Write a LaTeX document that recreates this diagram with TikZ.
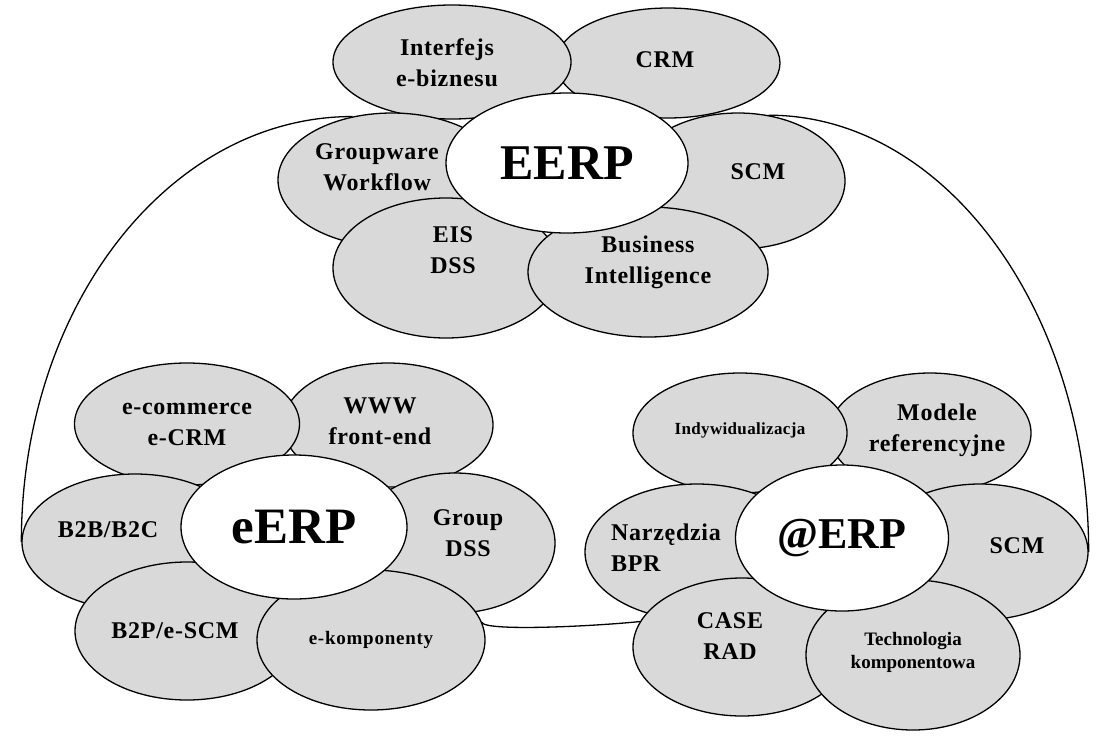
\documentclass[tikz,border=0pt]{standalone}
\usepackage{fontspec}
\setmainfont{Liberation Serif}
\usetikzlibrary{shapes.geometric}
\definecolor{petalgray}{HTML}{D9D9D9}
\newcommand\petalfont{\fontsize{24}{31}\selectfont\bfseries\addfontfeature{LetterSpace=3}}
\newcommand\tinyfont{\fontsize{17}{23}\selectfont\bfseries\addfontfeature{LetterSpace=2}}
\tikzset{
x=1pt, y=-1pt,
every node/.style={align=center},
every label/.style={align=center, font=\petalfont, inner sep=0pt},
petal/.style={ellipse, draw, fill=petalgray, inner sep=0pt, line width=1.3pt},
hub/.style={ellipse, draw, fill=white, inner sep=0pt, line width=1.3pt},
link/.style={line width=1.3pt},
}
\begin{document}
\begin{tikzpicture}
\useasboundingbox (0,0) rectangle (1105,748);
% EERP
\node[petal, minimum width=224pt, minimum height=110pt, label={[shift={(-3,-3)}]center:CRM}] (crm) at (668,63) {};
\node[petal, minimum width=238pt, minimum height=114pt, label={[shift={(-5,1)}]center:Interfejs\\e-biznesu}] (ifs) at (452,62) {};
\node[petal, minimum width=214pt, minimum height=136pt, label={[shift={(20,-9)}]center:SCM}] (scm) at (738,181) {};
\node[petal, minimum width=228pt, minimum height=134pt, label={[shift={(-15,-13)}]center:Groupware\\Workflow}] (gw) at (392,180) {};
\node[petal, minimum width=226pt, minimum height=140pt, label={[shift={(7,-18)}]center:EIS\\DSS}] (eis) at (446,268) {};
\node[petal, minimum width=240pt, minimum height=130pt, label={[shift={(0,-10)}]center:Business\\Intelligence}] (bi) at (648,272) {};
\node[hub, minimum width=242pt, minimum height=140pt, font=\fontsize{50}{50}\selectfont\bfseries] (eerp) at (567,163) {EERP};
% eERP
\node[petal, minimum width=210pt, minimum height=124pt, label={[shift={(-8,-4)}]center:WWW\\front-end}] (www) at (388,425) {};
\node[petal, minimum width=225pt, minimum height=122pt, label={center:e-commerce\\e-CRM}] (ecom) at (187,424) {};
\node[petal, minimum width=200pt, minimum height=140pt, label={[shift={(13,-10)}]center:Group\\DSS}] (grp) at (455,543) {};
\node[petal, minimum width=226pt, minimum height=136pt, label={[shift={(-27,-12)}]center:B2B/B2C}] (b2b) at (135,542) {};
\node[petal, minimum width=224pt, minimum height=138pt, label={[shift={(-12,0)}]center:B2P/e-SCM}] (b2p) at (187,631) {};
\node[petal, minimum width=228pt, minimum height=140pt, label={[font=\fontsize{19}{23}\selectfont\bfseries\addfontfeature{LetterSpace=4}]center:e-komponenty}] (ekomp) at (371,640) {};
\node[hub, minimum width=226pt, minimum height=144pt, font=\fontsize{51}{51}\selectfont\bfseries] (eerp2) at (294,527) {eERP};
% @ERP
\node[petal, minimum width=202pt, minimum height=120pt, label={[shift={(7,-3)}]center:Modele\\referencyjne}] (mod) at (930,433) {};
\node[petal, minimum width=214pt, minimum height=120pt, label={[shift={(0,-3)}, font=\tinyfont]center:Indywidualizacja}] (ind) at (740,433) {};
\node[petal, minimum width=224pt, minimum height=136pt, label={[shift={(-31,-4)}, align=left]center:Narzędzia\\BPR}] (narz) at (697,552) {};
\node[petal, minimum width=216pt, minimum height=136pt, label={[shift={(37,-6)}]center:SCM}] (scm2) at (980,552) {};
\node[petal, minimum width=218pt, minimum height=138pt, label={[shift={(-12,-11)}]center:CASE\\RAD}] (case) at (742,647) {};
\node[petal, minimum width=214pt, minimum height=150pt, label={[shift={(0,-3)}, font=\fontsize{19}{23}\selectfont\bfseries]center:Technologia\\komponentowa}] (tech) at (913,655) {};
\node[hub, minimum width=213pt, minimum height=146pt, font=\fontsize{44}{44}\selectfont\bfseries] (aerp) at (842,538) {@ERP};
% links
\draw[link] (gw.122) .. controls +(-183,0) and +(0,-236) .. (b2b.west);
\draw[link] (scm.65) .. controls +(177,0) and +(0,-240) .. (scm2.east);
\draw[link] (ekomp.9) .. controls +(3,9) and +(-50,5) .. (case.166);
\end{tikzpicture}
\end{document}
